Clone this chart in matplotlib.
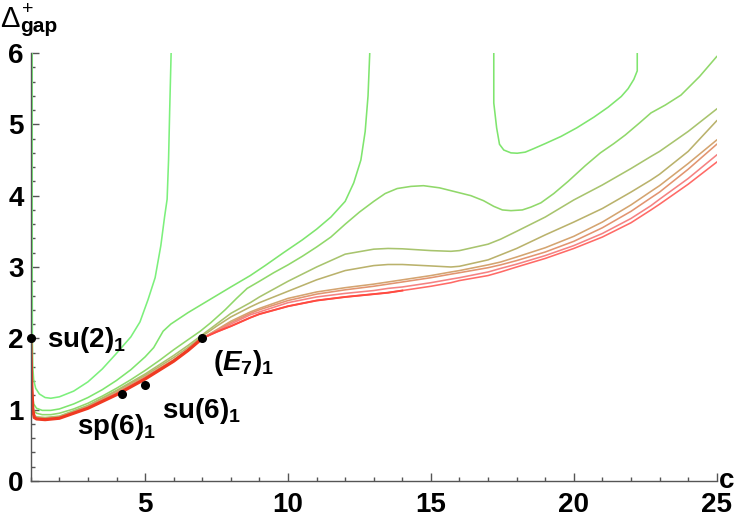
import numpy as np
import matplotlib
matplotlib.use("Agg")
import matplotlib.pyplot as plt
from matplotlib.ticker import MultipleLocator

plt.rcParams['font.family'] = ['Liberation Sans', 'DejaVu Sans']
plt.rcParams['mathtext.fontset'] = 'custom'
plt.rcParams['mathtext.rm'] = 'Liberation Sans:bold'
plt.rcParams['mathtext.bf'] = 'Liberation Sans:bold'
plt.rcParams['mathtext.it'] = 'Liberation Sans:bold:italic'

# ---------------- data ----------------
# curve A (lightest green): diverges at both ends
A_c = [1.05, 1.05, 1.055, 1.07, 1.1, 1.17, 1.3, 1.5, 1.7, 2.0, 2.5, 3.0, 3.5, 4.0, 4.5, 4.82, 5.1, 5.35, 5.55, 5.68, 5.77, 5.82, 5.86, 5.91]
A_v = [6.0, 3.0, 2.0, 1.6, 1.42, 1.3, 1.22, 1.17, 1.16, 1.18, 1.26, 1.39, 1.57, 1.79, 2.02, 2.23, 2.54, 2.85, 3.3, 3.7, 3.95, 4.5, 5.2, 6.0]

# curve B (green): leaves the frame at c~12.9, returns at c~17.2, leaves at c~22.2
B1_c = [1.0, 1.02, 1.05, 1.1, 1.2, 1.4, 1.7, 2.0, 2.5, 3.0, 3.5, 4.0, 4.5, 5.0, 5.3, 5.63, 5.9, 6.5, 7.0, 7.5, 8.0, 8.68, 9.2, 9.84, 10.5, 11.0, 11.5, 12.0, 12.3, 12.55, 12.7, 12.8, 12.86]
B1_v = [2.0, 1.6, 1.25, 1.08, 1.02, 0.99, 0.99, 1.01, 1.08, 1.17, 1.28, 1.41, 1.56, 1.74, 1.87, 2.1, 2.2, 2.36, 2.48, 2.6, 2.72, 2.88, 3.02, 3.2, 3.38, 3.53, 3.7, 3.92, 4.18, 4.5, 4.9, 5.4, 6.0]
B2_c = [17.2, 17.2, 17.3, 17.4, 17.55, 17.8, 18.02, 18.3, 18.6, 19.0, 19.55, 20.1, 20.7, 21.2, 21.66, 21.9, 22.1, 22.22, 22.22]
B2_v = [6.0, 5.3, 4.95, 4.72, 4.64, 4.6, 4.595, 4.61, 4.66, 4.73, 4.83, 4.95, 5.1, 5.24, 5.39, 5.5, 5.63, 5.75, 6.0]

# curve C
C_c = [1.0, 1.02, 1.05, 1.1, 1.2, 1.4, 1.7, 2.0, 2.5, 3.0, 3.5, 4.0, 4.5, 5.0, 5.5, 6.0, 6.5, 6.93, 7.3, 7.8, 8.2, 8.57, 9.0, 9.5, 10.0, 10.5, 11.0, 11.5, 12.0, 12.5, 13.0, 13.4, 13.82, 14.3, 14.74, 15.3, 15.9, 16.4, 16.84, 17.2, 17.5, 17.8, 18.2, 18.5, 18.85, 19.3, 19.8, 20.4, 20.93, 21.4, 21.8, 22.3, 22.7, 23.2, 23.75, 24.4, 25.0]
C_v = [2.0, 1.5, 1.15, 0.99, 0.95, 0.93, 0.93, 0.95, 1.01, 1.09, 1.19, 1.3, 1.42, 1.55, 1.69, 1.84, 1.98, 2.1, 2.22, 2.4, 2.56, 2.7, 2.8, 2.92, 3.03, 3.15, 3.28, 3.42, 3.6, 3.77, 3.92, 4.03, 4.1, 4.13, 4.14, 4.11, 4.05, 4.0, 3.93, 3.85, 3.8, 3.79, 3.8, 3.84, 3.9, 4.03, 4.2, 4.42, 4.6, 4.73, 4.85, 5.02, 5.16, 5.27, 5.41, 5.67, 5.95]

c_grid = [1.0, 1.03, 1.07, 1.12, 1.2, 1.5, 2.0, 3.0, 4.0, 5.0, 6.0, 6.5, 7.0, 7.5, 8.0, 8.68, 9.0, 10.0, 11.0, 12.0, 13.0, 13.5, 14.0, 15.0, 15.7, 16.0, 17.0, 17.44, 18.0, 19.0, 20.0, 21.0, 22.0, 22.7, 23.0, 24.0, 25.0]
D_v = [2.0, 1.4, 1.0, 0.92, 0.9, 0.89, 0.91, 1.06, 1.27, 1.5, 1.76, 1.9, 2.05, 2.2, 2.35, 2.5, 2.58, 2.8, 3.0, 3.18, 3.25, 3.26, 3.255, 3.23, 3.22, 3.23, 3.32, 3.39, 3.5, 3.7, 3.94, 4.15, 4.38, 4.55, 4.62, 4.9, 5.215]
E_v = [2.0, 1.4, 1.0, 0.91, 0.89, 0.88, 0.9, 1.05, 1.26, 1.48, 1.73, 1.87, 2.03, 2.17, 2.3, 2.44, 2.5, 2.66, 2.82, 2.95, 3.02, 3.035, 3.035, 3.015, 3.0, 3.01, 3.1, 3.17, 3.26, 3.45, 3.63, 3.82, 4.05, 4.22, 4.3, 4.62, 5.05]
F_v = [2.0, 1.4, 1.0, 0.9, 0.88, 0.87, 0.89, 1.04, 1.24, 1.46, 1.7, 1.84, 2.0, 2.12, 2.24, 2.37, 2.42, 2.56, 2.65, 2.71, 2.76, 2.79, 2.82, 2.88, 2.93, 2.95, 3.03, 3.07, 3.14, 3.27, 3.43, 3.63, 3.87, 4.06, 4.14, 4.45, 4.78]
G_v = [2.0, 1.4, 1.0, 0.9, 0.88, 0.87, 0.89, 1.03, 1.23, 1.45, 1.69, 1.83, 2.0, 2.11, 2.22, 2.35, 2.4, 2.53, 2.62, 2.68, 2.73, 2.76, 2.79, 2.85, 2.9, 2.92, 2.99, 3.03, 3.09, 3.21, 3.36, 3.55, 3.78, 3.97, 4.05, 4.37, 4.72]
H_v = [2.0, 1.4, 1.0, 0.89, 0.87, 0.86, 0.88, 1.03, 1.22, 1.44, 1.68, 1.83, 2.0, 2.1, 2.2, 2.33, 2.37, 2.5, 2.58, 2.63, 2.67, 2.7, 2.72, 2.78, 2.83, 2.85, 2.93, 2.98, 3.04, 3.16, 3.3, 3.47, 3.68, 3.86, 3.95, 4.24, 4.57]
I_v = [2.0, 1.4, 1.0, 0.89, 0.87, 0.86, 0.88, 1.02, 1.21, 1.43, 1.68, 1.83, 2.0, 2.09, 2.17, 2.29, 2.34, 2.45, 2.53, 2.58, 2.62, 2.64, 2.67, 2.73, 2.78, 2.81, 2.88, 2.93, 3.0, 3.12, 3.26, 3.42, 3.62, 3.8, 3.88, 4.16, 4.47]

curve_colors = ['#7cf07c', '#7fe56e', '#90d86a', '#a8c46e', '#bab26c', '#d4a470', '#e29470', '#f58282', '#ff6a66']

point_c = [1.0, 4.2, 5.0, 7.0]
point_v = [2.0, 1.215, 1.34, 2.0]
point_labels = [r'$\mathrm{su(2)}_{1}$', r'$\mathrm{sp(6)}_{1}$', r'$\mathrm{su(6)}_{1}$', r'$\mathrm{(}E_{\mathrm{7}}\mathrm{)}_{1}$']
label_c = [1.57, 2.62, 5.58, 7.38]
label_v = [1.98, 0.76, 0.98, 1.66]

x_ticks = [5, 10, 15, 20, 25]
y_ticks = [0, 1, 2, 3, 4, 5, 6]

# ---------------- figure ----------------
fig = plt.figure(figsize=(7.5, 5.19), dpi=100)
ax = fig.add_axes([30.8 / 750, 38 / 519, (716.7 - 30.8) / 750, 428 / 519])
ax.set_xlim(1, 25)
ax.set_ylim(0, 6)

lw = 1.15
ax.plot(A_c, A_v, color=curve_colors[0], lw=lw)
ax.plot(B1_c, B1_v, color=curve_colors[1], lw=lw)
ax.plot(B2_c, B2_v, color=curve_colors[1], lw=lw)
ax.plot(C_c, C_v, color=curve_colors[2], lw=lw)
for vals, col in zip([D_v, E_v, F_v, G_v, H_v, I_v], curve_colors[3:]):
    ax.plot(c_grid, vals, color=col, lw=lw)

# saturated lower envelope up to the E7 point
cg = np.array(c_grid)
iv = np.array(I_v)
m = cg <= 7.0
ax.plot(cg[m], iv[m], color='#f03a22', lw=2.3, solid_capstyle='round')
m2 = (cg >= 7.0) & (cg <= 14)
ax.plot(cg[m2], iv[m2], color='#ff4a40', lw=1.4)

ax.plot(point_c, point_v, 'o', color='black', ms=5.5, zorder=5, clip_on=False)
for s, x, y in zip(point_labels, label_c, label_v):
    ax.text(x, y, s, fontsize=20, ha='left', va='center', color='black')

# axes styling
for sp in ['top', 'right']:
    ax.spines[sp].set_visible(False)
for sp in ['left', 'bottom']:
    ax.spines[sp].set_color('#555555')
    ax.spines[sp].set_linewidth(1.0)
ax.set_xticks(x_ticks)
ax.set_yticks(y_ticks)
ax.xaxis.set_minor_locator(MultipleLocator(1))
ax.yaxis.set_minor_locator(MultipleLocator(0.2))
ax.tick_params(which='both', direction='in', color='#555555', width=1.0)
ax.tick_params(which='major', length=5.5)
ax.tick_params(which='minor', length=3.2)
ax.tick_params(axis='y', labelsize=20, pad=5)
ax.tick_params(axis='x', labelsize=20, pad=8)
for lab in ax.get_xticklabels() + ax.get_yticklabels():
    lab.set_fontweight('bold')

# axis labels
fig.text(727 / 750, 1 - 481 / 519, 'c', fontsize=20, fontweight='bold', ha='center', va='center')
fig.text(0 / 750, 1 - 27 / 519, 'Δ', fontsize=21, ha='left', va='baseline')
fig.text(22 / 750, 1 - 9 / 519, '+', fontsize=14, ha='left', va='center')
fig.text(20 / 750, 1 - 32 / 519, 'gap', fontsize=15, fontweight='bold', ha='left', va='baseline')

fig.savefig('out.png', dpi=100)
